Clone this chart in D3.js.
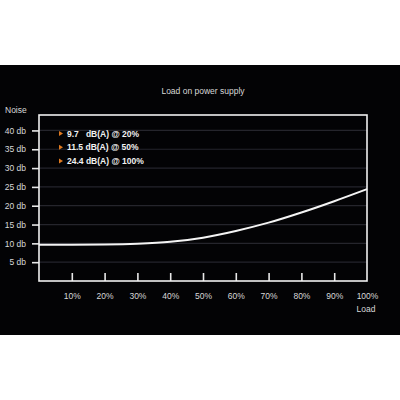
<!DOCTYPE html>
<html><head><meta charset="utf-8">
<script src="https://cdn.jsdelivr.net/npm/d3@7"></script>
<style>html,body{margin:0;padding:0;background:#fff;}svg{display:block;}</style>
</head><body>
<script>
const loadPct = [0, 10, 20, 30, 40, 50, 60, 70, 80, 90, 100];
const noiseDb = [9.6, 9.65, 9.7, 9.9, 10.4, 11.5, 13.3, 15.5, 18.2, 21.2, 24.4];
const yTicks = [5, 10, 15, 20, 25, 30, 35, 40];
const xTicks = [10, 20, 30, 40, 50, 60, 70, 80, 90, 100];
const legendItems = ["9.7\u00a0\u00a0\u00a0dB(A) @ 20%", "11.5 dB(A) @ 50%", "24.4 dB(A) @ 100%"];

const W = 400, H = 400;
const svg = d3.select("body").append("svg").attr("width", W).attr("height", H);
const font = "'Liberation Sans', Arial, sans-serif";

svg.append("rect").attr("x", 0).attr("y", 65).attr("width", W).attr("height", 270).attr("fill", "#030305");

const x = d3.scaleLinear().domain([0, 100]).range([39, 367]);
const y = d3.scaleLinear().domain([0, 44.1]).range([281, 115]);

// gridlines
svg.append("g").selectAll("line").data(yTicks).join("line")
  .attr("x1", x(0)).attr("x2", x(100))
  .attr("y1", d => y(d)).attr("y2", d => y(d))
  .attr("stroke", "#25252c").attr("stroke-width", 1.2);

// y axis
const yAxis = svg.append("g").attr("transform", `translate(${x(0)},0)`)
  .call(d3.axisLeft(y).tickValues(yTicks).tickSize(7).tickPadding(6).tickFormat(d => d + " db"));
yAxis.select(".domain").remove();
yAxis.selectAll("line").attr("stroke", "#e8e8e8").attr("stroke-width", 1.6);
yAxis.selectAll("text").attr("fill", "#d8d8d8").style("font-family", font).style("font-size", "8.5px");

// x axis (ticks inside)
const xAxis = svg.append("g").attr("transform", `translate(0,${y(0)})`)
  .call(d3.axisBottom(x).tickValues(xTicks).tickSizeInner(-8).tickSizeOuter(0).tickPadding(12).tickFormat(d => d + "%"));
xAxis.select(".domain").remove();
xAxis.selectAll("line").attr("stroke", "#e8e8e8").attr("stroke-width", 1.6);
xAxis.selectAll("text").attr("fill", "#d8d8d8").style("font-family", font).style("font-size", "8.5px");
xAxis.selectAll(".tick").filter(d => d === 100).select("line").remove();

// frame
svg.append("rect").attr("x", x(0)).attr("y", y(44.1)).attr("width", x(100) - x(0)).attr("height", y(0) - y(44.1))
  .attr("fill", "none").attr("stroke", "#f0f0f0").attr("stroke-width", 1.6);

// curve
const pts = loadPct.map((d, i) => [d, noiseDb[i]]);
svg.append("path").datum(pts)
  .attr("d", d3.line().x(d => x(d[0])).y(d => y(d[1])).curve(d3.curveMonotoneX))
  .attr("fill", "none").attr("stroke", "#f4f4f4").attr("stroke-width", 2);

// titles
svg.append("text").attr("x", 203).attr("y", 94).attr("text-anchor", "middle")
  .attr("fill", "#d8d8d8").style("font-family", font).style("font-size", "8.5px").text("Load on power supply");
svg.append("text").attr("x", 5).attr("y", 113)
  .attr("fill", "#d8d8d8").style("font-family", font).style("font-size", "8.5px").text("Noise");
svg.append("text").attr("x", 366).attr("y", 312).attr("text-anchor", "middle")
  .attr("fill", "#d8d8d8").style("font-family", font).style("font-size", "8.5px").text("Load");

// legend
const lg = svg.append("g").selectAll("g").data(legendItems).join("g")
  .attr("transform", (d, i) => `translate(59,${133.5 + i * 13.7})`);
lg.append("path").attr("d", "M0,-2.5L4,0L0,2.5Z").attr("fill", "#e07a20");
lg.append("text").attr("x", 8).attr("y", 3).attr("fill", "#f2f2f2")
  .style("font-family", font).style("font-size", "8.5px").style("font-weight", "bold").text(d => d);
</script>
</body></html>
